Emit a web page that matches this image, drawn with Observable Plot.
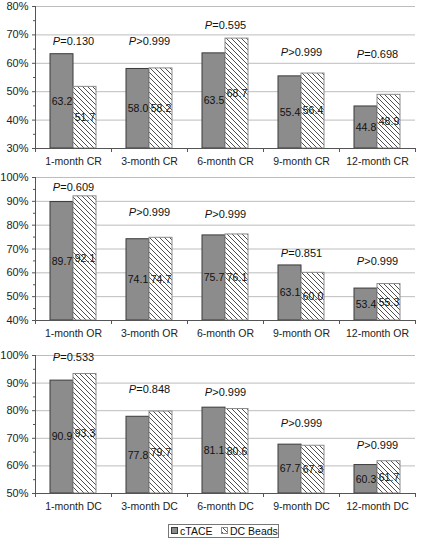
<!DOCTYPE html>
<html>
<head>
<meta charset="utf-8">
<script src="https://cdn.jsdelivr.net/npm/d3@7"></script>
<script src="https://cdn.jsdelivr.net/npm/@observablehq/plot@0.6"></script>
<style>
  html, body { margin: 0; padding: 0; background: #fff; }
  #chart { width: 422px; font-family: "Liberation Sans", Arial, sans-serif; }
  #chart svg { display: block; }
</style>
</head>
<body>
<div id="chart"></div>
<script>
// ---- data ----
const series = ["cTACE", "DC Beads"];

const crLabels = ["1-month CR", "3-month CR", "6-month CR", "9-month CR", "12-month CR"];
const crTACE = [63.2, 58.0, 63.5, 55.4, 44.8];
const crBeads = [51.7, 58.2, 68.7, 56.4, 48.9];
const crP = ["P=0.130", "P>0.999", "P=0.595", "P>0.999", "P=0.698"];
const crPy = [67.7, 67.7, 73.3, 63.8, 63.1];
const crTicks = [30, 40, 50, 60, 70, 80];

const orLabels = ["1-month OR", "3-month OR", "6-month OR", "9-month OR", "12-month OR"];
const orTACE = [89.7, 74.1, 75.7, 63.1, 53.4];
const orBeads = [92.1, 74.7, 76.1, 60.0, 55.3];
const orP = ["P=0.609", "P>0.999", "P>0.999", "P=0.851", "P>0.999"];
const orPy = [95.8, 85.3, 84.5, 68.1, 64.8];
const orTicks = [40, 50, 60, 70, 80, 90, 100];

const dcLabels = ["1-month DC", "3-month DC", "6-month DC", "9-month DC", "12-month DC"];
const dcTACE = [90.9, 77.8, 81.1, 67.7, 60.3];
const dcBeads = [93.3, 79.7, 80.6, 67.3, 61.7];
const dcP = ["P=0.533", "P=0.848", "P>0.999", "P>0.999", "P>0.999"];
const dcPy = [99.3, 87.7, 86.6, 75.4, 67.4];
const dcTicks = [50, 60, 70, 80, 90, 100];

const FONT = "'Liberation Sans', Arial, sans-serif";
let patId = 0;

function addHatch(svg) {
  const id = "hatch" + (patId++);
  const defs = d3.select(svg).insert("defs", ":first-child");
  const p = defs.append("pattern").attr("id", id)
    .attr("patternUnits", "userSpaceOnUse").attr("width", 5).attr("height", 5);
  p.append("rect").attr("width", 5).attr("height", 5).attr("fill", "#fff");
  p.append("path").attr("d", "M-1,-1L6,6M-1,4L1,6M4,-1L6,1")
    .attr("stroke", "#3c3c3c").attr("stroke-width", 0.9);
  return id;
}

function panel(labels, tace, beads, pText, pY, ticks, height, marginTop, marginBottom) {
  const base = ticks[0], top = ticks[ticks.length - 1];
  const rows = [];
  labels.forEach((c, i) => {
    rows.push({cat: c, s: series[0], v: tace[i]});
    rows.push({cat: c, s: series[1], v: beads[i]});
  });
  const pRows = labels.map((c, i) => ({cat: c, t: pText[i], y: pY[i]}));
  const minor = ticks.slice(0, -1).map(t => t + (ticks[1] - ticks[0]) / 2);
  const hid = "hatch" + patId;

  const chart = Plot.plot({
    width: 422, height, marginLeft: 34, marginRight: 7, marginTop, marginBottom,
    style: {fontFamily: FONT, fontSize: "10.5px", color: "#222", background: "#fff"},
    fx: {domain: labels, padding: 0, label: null},
    x: {domain: series, paddingInner: 0, paddingOuter: 0.65, axis: null},
    y: {domain: [base, top], label: null},
    marks: [
      Plot.gridY(ticks, {stroke: "#bdbdbd", strokeOpacity: 1}),
      Plot.barY(rows, {fx: "cat", x: "s", y1: base, y2: "v",
        fill: d => d.s === series[0] ? "#8c8c8c" : `url(#${hid})`,
        stroke: d => d.s === series[0] ? "#3a3a3a" : "#8a8a8a", strokeWidth: 1}),
      Plot.text(rows, {fx: "cat", x: "s", y: d => (base + d.v) / 2, text: d => d.v.toFixed(1),
        fontSize: 10.5, fill: "#111"}),
      Plot.text(pRows, {fx: "cat", y: "y", text: "t", fontSize: 11, fill: "#111", frameAnchor: "middle"}),
      Plot.ruleY([base], {stroke: "#555"}),
      Plot.axisY(ticks, {tickSize: 3, tickPadding: 4, tickFormat: d => d + "%", label: null,
        fontSize: 11, stroke: "#555"}),
      Plot.axisY(minor, {tickSize: 2, tickFormat: () => "", label: null, stroke: "#555"}),
      Plot.axisFx({anchor: "bottom", tickSize: 0, tickPadding: 9, label: null, fontSize: 10.5})
    ]
  });
  const svg = chart.tagName.toLowerCase() === "svg" ? chart : chart.querySelector("svg");
  addHatch(svg);

  // italic P in the P-value labels
  d3.select(svg).selectAll("text").filter(function () {
    return /^P[=>]/.test(this.textContent) && this.childElementCount === 0;
  }).each(function () {
    const t = this.textContent;
    const sel = d3.select(this);
    sel.text("");
    sel.append("tspan").attr("font-style", "italic").text("P");
    sel.append("tspan").text(t.slice(1));
  });

  // left axis line and category boundary ticks, from the plot's scales
  const fx = chart.scale("fx"), y = chart.scale("y");
  const yb = y.apply(base), yt = y.apply(top);
  const g = d3.select(svg).append("g").attr("stroke", "#555").attr("stroke-width", 1);
  const x0 = fx.apply(labels[0]);
  g.append("line").attr("x1", x0 + 0.5).attr("x2", x0 + 0.5).attr("y1", yt).attr("y2", yb + 4);
  const bw = fx.bandwidth !== undefined ? fx.bandwidth : fx.step;
  labels.forEach((c, i) => {
    const xx = Math.round(fx.apply(c) + bw) + 0.5;
    g.append("line").attr("x1", xx).attr("x2", xx).attr("y1", yb).attr("y2", yb + 4);
  });
  return chart;
}

const root = document.getElementById("chart");
root.appendChild(panel(crLabels, crTACE, crBeads, crP, crPy, crTicks, 170, 6, 22));
root.appendChild(panel(orLabels, orTACE, orBeads, orP, orPy, orTicks, 170, 7, 20));
root.appendChild(panel(dcLabels, dcTACE, dcBeads, dcP, dcPy, dcTicks, 175, 15, 22));

// legend
const lg = d3.select(root).append("svg").attr("width", 422).attr("height", 23)
  .style("font-family", FONT).style("font-size", "10.5px");
const lid = addHatch(lg.node());
lg.append("rect").attr("x", 168.5).attr("y", 9.5).attr("width", 110).attr("height", 13)
  .attr("fill", "#fff").attr("stroke", "#777");
const items = [
  {label: series[0], x: 171, fill: "#8c8c8c", stroke: "#3a3a3a"},
  {label: series[1], x: 221, fill: `url(#${lid})`, stroke: "#8a8a8a"}
];
items.forEach(it => {
  lg.append("rect").attr("x", it.x + 0.5).attr("y", 12.5).attr("width", 6).attr("height", 6)
    .attr("fill", it.fill).attr("stroke", it.stroke);
  lg.append("text").attr("x", it.x + 9).attr("y", 19.5).attr("fill", "#111").text(it.label);
});
</script>
</body>
</html>
